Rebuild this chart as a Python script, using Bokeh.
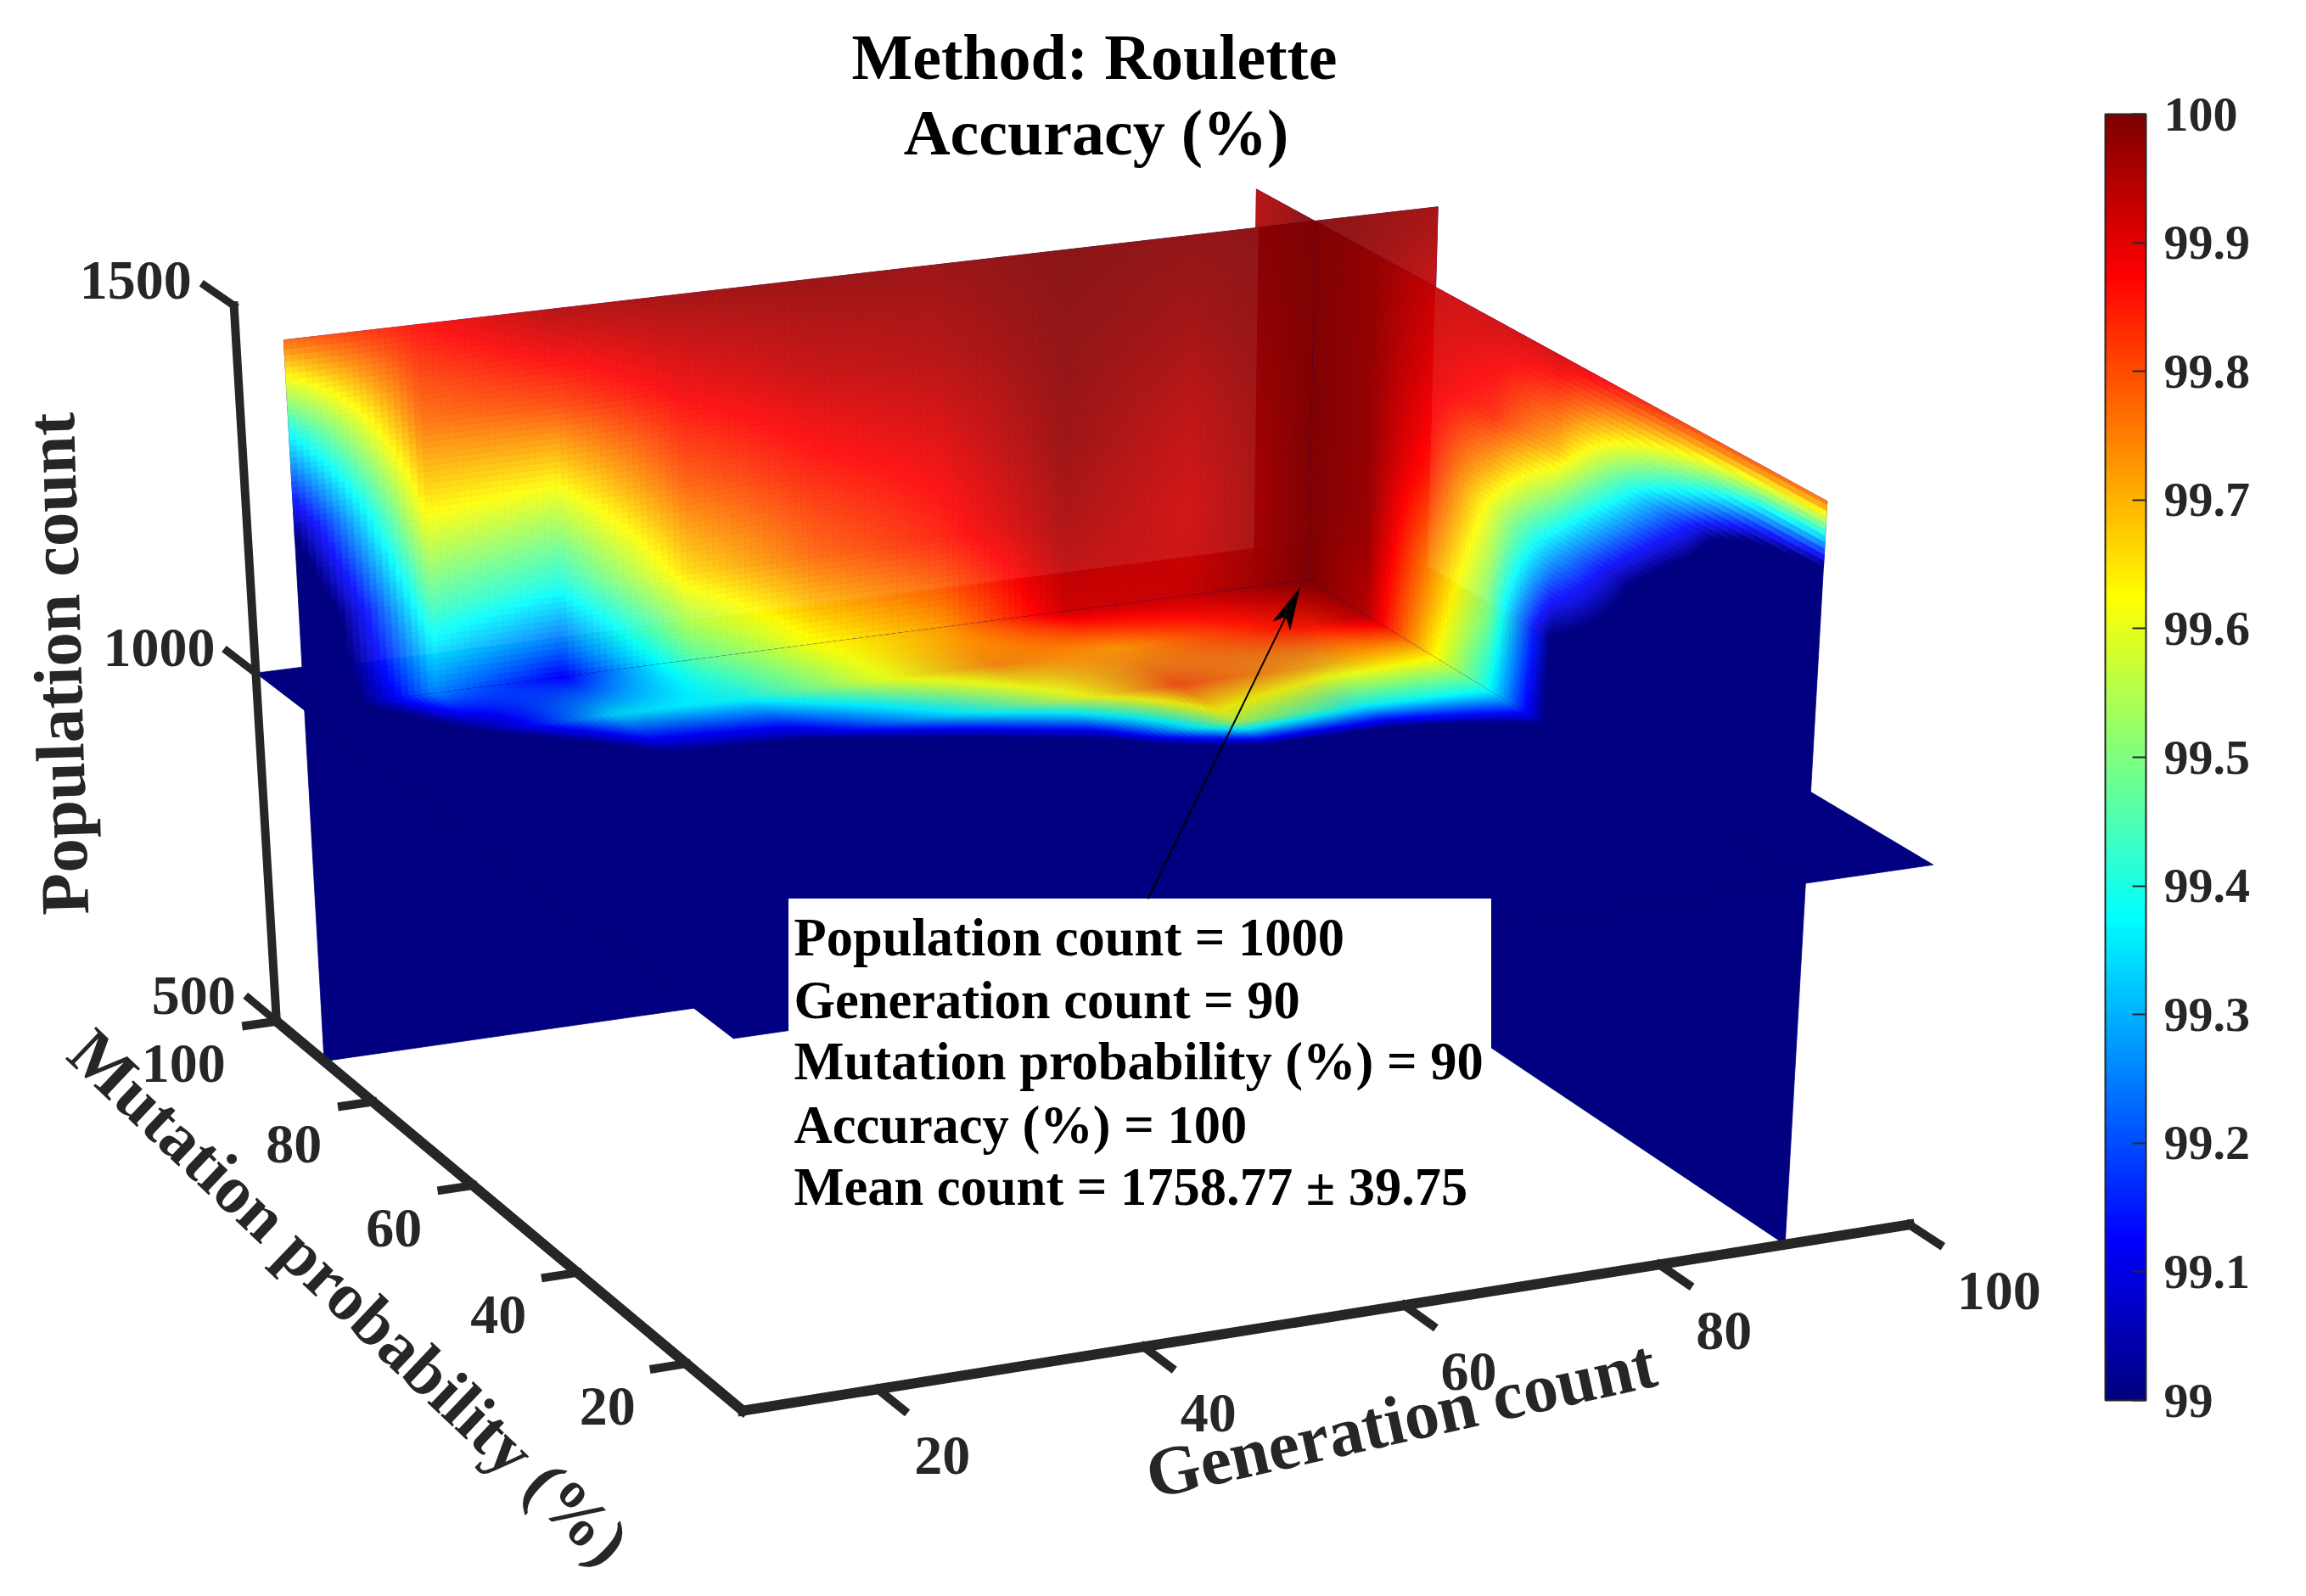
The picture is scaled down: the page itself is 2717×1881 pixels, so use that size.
import numpy as np
from bokeh.core.properties import value
from bokeh.embed import file_html
from bokeh.models import ColorBar, ColumnDataSource, FixedTicker, LinearColorMapper, Range1d
from bokeh.plotting import figure
from bokeh.resources import INLINE

# slice grids
gen = [10, 20, 30, 40, 50, 60, 70, 80, 90, 100]
mut = [10, 20, 30, 40, 50, 60, 70, 80, 90, 100]
pop = [500, 1000, 1125, 1250, 1375, 1500]
gen_slice, mut_slice, pop_slice = 90, 90, 1000

# accuracy on pop = 1000, one row per mutation probability, columns are generations
acc_pop = [
    [98.3, 98.3, 98.3, 98.3, 98.3, 98.3, 98.3, 98.3, 98.3, 98.3],
    [98.3, 98.3, 98.3, 98.3, 98.3, 98.3, 98.3, 98.3, 98.3, 98.3],
    [98.3, 98.3, 98.3, 98.3, 98.3, 98.3, 98.3, 98.3, 98.4, 98.3],
    [98.3, 98.3, 98.3, 98.3, 98.3, 98.3, 98.3, 98.4, 98.6, 98.4],
    [98.3, 98.3, 98.3, 98.3, 98.4, 98.5, 98.6, 98.7, 98.98, 98.6],
    [98.3, 98.3, 98.4, 98.5, 98.7, 99.0, 99.55, 99.4, 99.4, 99.0],
    [98.4, 98.6, 99.0, 99.05, 99.3, 99.55, 99.8, 99.72, 99.67, 99.4],
    [98.7, 99.0, 99.35, 99.4, 99.6, 99.76, 99.74, 99.85, 99.95, 99.7],
    [98.8, 99.25, 99.12, 99.45, 99.62, 99.72, 99.92, 99.93, 100, 99.8],
    [98.8, 99.3, 99.4, 99.6, 99.7, 99.8, 99.95, 99.95, 99.95, 99.8],
]
# accuracy on mutation = 90, one row per population, columns are generations
acc_mut = [
    [97, 97, 97, 97, 97, 97, 97, 97, 97, 97],
    [98.8, 99.25, 99.12, 99.45, 99.62, 99.72, 99.92, 99.93, 100, 99.8],
    [98.8, 99.45, 99.39, 99.66, 99.78, 99.85, 99.96, 99.92, 100, 99.85],
    [99.02, 99.63, 99.6, 99.79, 99.86, 99.9, 99.98, 99.94, 100, 99.88],
    [99.37, 99.77, 99.81, 99.89, 99.93, 99.95, 99.99, 99.97, 100, 99.93],
    [99.78, 99.87, 99.95, 99.97, 99.98, 99.98, 100, 99.99, 100, 99.97],
]
# accuracy on generation = 90, one row per population, columns are mutation probabilities
acc_gen = [
    [97, 97, 97, 97, 97, 97, 97, 97, 97, 97],
    [98.3, 98.3, 98.4, 98.6, 98.98, 99.4, 99.67, 99.95, 100, 99.95],
    [98.3, 98.3, 98.5, 98.85, 99.0, 99.5, 99.75, 99.98, 100, 99.95],
    [98.3, 98.4, 98.75, 99.05, 99.33, 99.6, 99.85, 99.98, 100, 99.95],
    [98.6, 98.8, 99.15, 99.42, 99.69, 99.84, 99.9, 99.98, 100, 99.95],
    [99.78, 99.8, 99.82, 99.87, 99.92, 99.92, 99.93, 99.98, 100, 99.95],
]

gen_ticks = [20, 40, 60, 80, 100]
mut_ticks = [20, 40, 60, 80, 100]
pop_ticks = [500, 1000, 1500]
bar_ticks = [99, 99.1, 99.2, 99.3, 99.4, 99.5, 99.6, 99.7, 99.8, 99.9, 100]
annotation = [
    "Population count = 1000",
    "Generation count = 90",
    "Mutation probability (%) = 90",
    "Accuracy (%) = 100",
    "Mean count = 1758.77 \u00b1 39.75",
]

INK = "#262626"
NAVY = "#000080"
FONT = value("Liberation Serif")

# camera: where known 3D points land on the page, solved into one projection matrix
anchors = [
    (10, 10, 500, 871, 1665), (100, 10, 500, 2248, 1444), (10, 100, 500, 323, 1202),
    (10, 100, 1000, 302, 795), (10, 100, 1500, 278, 359), (20, 10, 500, 1032, 1635),
    (40, 10, 500, 1345, 1586), (60, 10, 500, 1657, 1538), (80, 10, 500, 1955, 1491),
    (10, 20, 500, 808, 1605), (10, 40, 500, 684, 1498), (10, 60, 500, 560, 1396),
    (10, 80, 500, 439, 1299), (10, 10, 1000, 866, 1228), (100, 10, 1000, 2279, 1018),
    (90, 10, 1500, 2151, 589), (90, 10, 500, 2102, 1465), (90, 10, 1000, 2127, 1039),
    (90, 100, 1500, 1480, 223), (100, 90, 1500, 1693, 243), (10, 90, 1500, 332, 400),
    (10, 90, 500, 380, 1249), (90, 90, 1500, 1547, 259), (90, 90, 1000, 1541, 685),
    (90, 100, 1000, 1475, 644), (10, 90, 1000, 356, 835), (100, 90, 1000, 1683, 665),
]


def solve_camera(points):
    rows = []
    for g, m, z, sx, sy in points:
        X = [g / 100, m / 100, z / 1000, 1]
        sx, sy = sx / 1000, sy / 1000
        rows.append(X + [0, 0, 0, 0] + [-sx * c for c in X])
        rows.append([0, 0, 0, 0] + X + [-sy * c for c in X])
    return np.linalg.svd(np.array(rows))[2][-1].reshape(3, 4)


CAM = solve_camera(anchors)


def project(g, m, z):
    g, m, z = np.broadcast_arrays(np.asarray(g, float), np.asarray(m, float), np.asarray(z, float))
    X = np.stack([g / 100, m / 100, z / 1000, np.ones_like(g)])
    u = CAM @ X.reshape(4, -1)
    return (1000 * u[0] / u[2]).reshape(g.shape), (1000 * u[1] / u[2]).reshape(g.shape)


def jet(v):
    t = np.clip(np.asarray(v, float) - 99, 0, 1)
    return np.stack([np.clip(1.5 - np.abs(4 * t - c), 0, 1) for c in (3, 2, 1)], axis=-1)


def to_hex(rgb):
    return ["#%02x%02x%02x" % tuple(c) for c in np.round(rgb * 255).astype(int)]


def bilerp(grid, xs, ys, x, y):
    grid = np.array(grid, float)
    i = np.clip(np.searchsorted(xs, x, side="right") - 1, 0, len(xs) - 2)
    j = np.clip(np.searchsorted(ys, y, side="right") - 1, 0, len(ys) - 2)
    xs, ys = np.array(xs, float), np.array(ys, float)
    tx = (x - xs[i]) / (xs[i + 1] - xs[i])
    ty = (y - ys[j]) / (ys[j + 1] - ys[j])
    return (grid[j, i] * (1 - tx) * (1 - ty) + grid[j, i + 1] * tx * (1 - ty)
            + grid[j + 1, i] * (1 - tx) * ty + grid[j + 1, i + 1] * tx * ty)


class Piece:
    # a rectangle of one slice plane, cut into cells along the edges a and b
    def __init__(self, plane, a, b):
        self.plane, self.a, self.b = plane, np.array(a, float), np.array(b, float)
        col = {"pop": (0, 1, 2, pop_slice / 1000), "mut": (0, 2, 1, mut_slice / 100),
               "gen": (1, 2, 0, gen_slice / 100)}[plane]
        self.scale = {"pop": (100, 100), "mut": (100, 1000), "gen": (100, 1000)}[plane]
        hom = np.stack([CAM[:, col[0]], CAM[:, col[1]], CAM[:, col[2]] * col[3] + CAM[:, 3]], axis=1)
        self.inv = np.linalg.inv(hom)

    def to3d(self, a, b):
        if self.plane == "pop":
            return a, b, np.full_like(a, pop_slice)
        if self.plane == "mut":
            return a, np.full_like(a, mut_slice), b
        return np.full_like(a, gen_slice), a, b

    def accuracy(self, a, b):
        if self.plane == "pop":
            return bilerp(acc_pop, gen, mut, a, b)
        if self.plane == "mut":
            return bilerp(acc_mut, gen, pop, a, b)
        return bilerp(acc_gen, mut, pop, a, b)

    def over(self, buf, sx, sy):
        # lay this piece over the colours in buf at page points sx, sy
        w = self.inv @ np.stack([sx / 1000, sy / 1000, np.ones_like(sx)])
        a, b = self.scale[0] * w[0] / w[2], self.scale[1] * w[1] / w[2]
        inside = (a >= self.a[0]) & (a <= self.a[-1]) & (b >= self.b[0]) & (b <= self.b[-1])
        v = self.accuracy(a[inside], b[inside])
        alpha = (1 - 0.09 * np.clip((v - 99) / 0.1, 0, 1))[:, None]
        buf[inside] = alpha * jet(v) + (1 - alpha) * buf[inside]


def steps(start, stop, step):
    return list(np.arange(start, stop, step)) + [stop]


upper = steps(1000, 1500, 8)
# painter's order, far from the viewer first
pieces = [
    Piece("pop", steps(90, 100, 2), steps(90, 100, 2)),
    Piece("mut", steps(90, 100, 1), [500] + upper),
    Piece("pop", steps(90, 100, 2), steps(10, 90, 2)),
    Piece("gen", steps(90, 100, 1), [500] + upper),
    Piece("gen", steps(10, 90, 0.5), upper),
    Piece("gen", [10, 90], [500, 1000]),
    Piece("pop", steps(10, 90, 1), steps(90, 100, 1)),
    Piece("mut", steps(10, 90, 0.5), upper),
    Piece("mut", [10, 90], [500, 1000]),
    Piece("pop", steps(10, 90, 0.5), [10, 48] + steps(48.4, 90, 0.4)),
]

cell_xs, cell_ys, cell_colors = [], [], []


def add_cell(piece, a, b, color):
    x, y = project(*piece.to3d(np.array(a, float), np.array(b, float)))
    cell_xs.append(x.tolist())
    cell_ys.append(y.tolist())
    cell_colors.append(color)


for n, piece in enumerate(pieces):
    ca, cb = np.meshgrid((piece.a[:-1] + piece.a[1:]) / 2, (piece.b[:-1] + piece.b[1:]) / 2)
    sx, sy = project(*piece.to3d(ca.ravel(), cb.ravel()))
    buf = np.ones((sx.size, 3))
    for earlier in pieces[: n + 1]:
        earlier.over(buf, sx, sy)
    colors = to_hex(buf)
    # one navy sheet under the piece saves the cells that are all below 99
    add_cell(piece, [piece.a[0], piece.a[-1], piece.a[-1], piece.a[0]],
             [piece.b[0], piece.b[0], piece.b[-1], piece.b[-1]], NAVY)
    k = 0
    for j in range(len(piece.b) - 1):
        for i in range(len(piece.a) - 1):
            if colors[k] != NAVY:
                add_cell(piece, [piece.a[i], piece.a[i + 1], piece.a[i + 1], piece.a[i]],
                         [piece.b[j], piece.b[j], piece.b[j + 1], piece.b[j + 1]], colors[k])
            k += 1

p = figure(width=2701, height=1865, x_range=Range1d(0, 2701), y_range=Range1d(1865, 0),
           x_axis_location=None, y_axis_location=None, toolbar_location=None,
           output_backend="svg", min_border=0, outline_line_color=None)
p.grid.visible = False

source = ColumnDataSource(data=dict(xs=cell_xs, ys=cell_ys, color=cell_colors))
p.patches("xs", "ys", fill_color="color", line_color="color", line_width=0.8, source=source)


def axis_line(start, stop, width=12):
    x, y = project(*np.array([start, stop], float).T)
    p.line(x, y, line_color=INK, line_width=width, line_cap="square")


axis_line((10, 10, 500), (100, 10, 500))
axis_line((10, 10, 500), (10, 100, 500))
axis_line((10, 100, 500), (10, 100, 1500), 10)
for t in gen_ticks:
    axis_line((t, 10, 500), (t, 5.5, 500), 10)
for t in mut_ticks:
    axis_line((10, t, 500), (7.6, t, 500), 10)
for t in pop_ticks:
    axis_line((10, 100, t), (10, 106, t), 9)


def tick_labels(ticks, pts, dx, dy, align):
    x, y = project(*np.array(pts, float).T)
    p.text(x + np.array(dx), y + dy, text=[str(t) for t in ticks], text_font=FONT, text_font_style="bold",
           text_font_size="66px", text_color=INK, text_align=align, text_baseline="middle")


tick_labels(gen_ticks, [(t, 10, 500) for t in gen_ticks], [43 + 13 * (len(str(t)) - 2) for t in gen_ticks], 78, "left")
tick_labels(mut_ticks, [(10, t, 500) for t in mut_ticks], [-60] * 5, 50, "right")
tick_labels(pop_ticks, [(10, 100, t) for t in pop_ticks], [-48, -48, -50], -30, "right")


def label(x, y, text, size, angle=0.0, color=INK, align="center"):
    p.text([x], [y], text=[text], angle=angle, text_font=FONT, text_font_style="bold", text_font_size=size,
           text_color=color, text_align=align, text_baseline="middle")


label(68, 782, "Population count", "81px", 1.6)
label(411, 1528, "Mutation probability (%)", "80px", -0.76)
label(1650, 1672, "Generation count", "82px", 0.22)
label(1289, 66, "Method: Roulette", "76px", color="black")
label(1291, 155, "Accuracy (%)", "76px", color="black")

# data tip box and its arrow
p.quad(left=[929], right=[1756], top=[1059], bottom=[1440], fill_color="white", line_color="white")
for line, mid in zip(annotation, [1104, 1178, 1250, 1325, 1398]):
    label(935, mid, line, "62.5px", color="black", align="left")

tip_x, tip_y = project(gen_slice, mut_slice, pop_slice)
tip = np.array([float(tip_x) - 10, float(tip_y) + 10])
start = np.array([1352.0, 1059.0])
along = (tip - start) / np.linalg.norm(tip - start)
side = np.array([-along[1], along[0]])
p.line([start[0], tip[0]], [start[1], tip[1]], line_color="black", line_width=2)
head = [tip, tip - 48 * along + 11 * side, tip - 36 * along, tip - 48 * along - 11 * side]
p.patch([c[0] for c in head], [c[1] for c in head], fill_color="black", line_color="black", line_width=1)

palette = to_hex(jet(np.linspace(99, 100, 256)))
bar = ColorBar(color_mapper=LinearColorMapper(palette=palette, low=99, high=100),
               ticker=FixedTicker(ticks=bar_ticks),
               major_label_overrides={t: str(t) for t in bar_ticks},
               width=48, height=1516, location=(2480, 215), padding=0,
               major_tick_in=16, major_tick_out=0, major_tick_line_color=INK, major_tick_line_width=2,
               bar_line_color=INK, bar_line_width=2, label_standoff=21,
               major_label_text_font="Liberation Serif", major_label_text_font_style="bold",
               major_label_text_font_size="58px", major_label_text_color=INK,
               background_fill_alpha=0, border_line_color=None)
p.add_layout(bar)

open("out.html", "w").write(file_html(p, INLINE))
